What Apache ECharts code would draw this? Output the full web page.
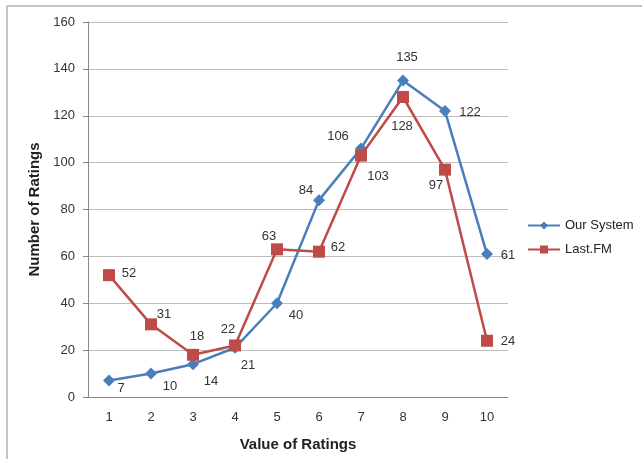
<!DOCTYPE html>
<html><head><meta charset="utf-8">
<script src="https://cdn.jsdelivr.net/npm/echarts@6/dist/echarts.min.js"></script>
<style>html,body{margin:0;padding:0;background:#fff}#c{width:642px;height:459px}</style>
</head><body><div id="c"></div>
<script>
const categories = ['1','2','3','4','5','6','7','8','9','10'];
const ourSystem = [7, 10, 14, 21, 40, 84, 106, 135, 122, 61];
const lastFM = [52, 31, 18, 22, 63, 62, 103, 128, 97, 24];
const yTicks = {min: 0, max: 160, interval: 20};

// label offsets (style only)
const ourOffsets = [[12,8],[19,13],[18,17],[13,18],[19,12],[-13,-10],[-23,-12],[4,-23],[25,1],[21,1]];
const fmOffsets = [[20,-2],[13,-10],[4,-18],[-7,-16],[-8,-13],[19,-4],[17,21],[-1,29],[-9,16],[21,1]];

const FONT = 'Liberation Sans';
function mk(vals, offs){
  return vals.map((v,i)=>({value:v,label:{offset:offs[i]}}));
}
const chart = echarts.init(document.getElementById('c'), null, {renderer:'canvas'});
chart.setOption({
  animation:false,
  backgroundColor:'#ffffff',
  textStyle:{fontFamily:FONT},
  graphic:[{type:'rect',shape:{x:7,y:6,width:700,height:500},style:{fill:'none',stroke:'#8a8a8a',lineWidth:1},silent:true}],
  grid:{left:88,right:134,top:22,bottom:62,containLabel:false},
  legend:{
    orient:'vertical',left:522,top:214,itemWidth:32,itemHeight:10,itemGap:11,
    textStyle:{fontFamily:FONT,fontSize:13,color:'#222'},
    data:['Our System','Last.FM']
  },
  xAxis:{
    type:'category',data:categories,boundaryGap:true,
    name:'Value of Ratings',nameLocation:'middle',nameGap:40,
    nameTextStyle:{fontFamily:FONT,fontSize:15,fontWeight:'bold',color:'#222'},
    axisLine:{lineStyle:{color:'#888',width:1}},
    axisTick:{show:false},
    axisLabel:{fontFamily:FONT,fontSize:13,color:'#333',margin:14},
    splitLine:{show:false}
  },
  yAxis:{
    type:'value',min:yTicks.min,max:yTicks.max,interval:yTicks.interval,
    name:'Number of Ratings',nameLocation:'middle',nameGap:46,nameRotate:90,
    nameTextStyle:{fontFamily:FONT,fontSize:15,fontWeight:'bold',color:'#222'},
    axisLine:{show:true,lineStyle:{color:'#888',width:1}},
    axisTick:{show:true,length:5,lineStyle:{color:'#888'}},
    axisLabel:{fontFamily:FONT,fontSize:13,color:'#333',margin:13},
    splitLine:{lineStyle:{color:'#bdbdbd',width:1}}
  },
  series:[
    {
      name:'Our System',type:'line',data:mk(ourSystem,ourOffsets),
      symbol:'diamond',symbolSize:12,
      lineStyle:{color:'#4a7ebb',width:2.5},
      itemStyle:{color:'#4a7ebb'},
      label:{show:true,position:'inside',fontFamily:FONT,fontSize:13,color:'#333'},
      z:3
    },
    {
      name:'Last.FM',type:'line',data:mk(lastFM,fmOffsets),
      symbol:'rect',symbolSize:12,
      lineStyle:{color:'#be4b48',width:2.5},
      itemStyle:{color:'#be4b48'},
      label:{show:true,position:'inside',fontFamily:FONT,fontSize:13,color:'#333'},
      z:4
    }
  ]
});
</script></body></html>
